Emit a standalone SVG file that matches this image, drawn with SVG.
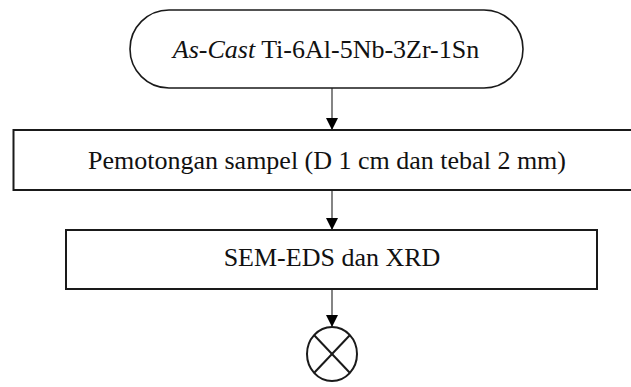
<svg xmlns="http://www.w3.org/2000/svg" width="631" height="387" viewBox="0 0 631 387">
<style>
.node{fill:#fff;stroke:#1a1a1a;stroke-width:2}
.lbl{font-family:"Liberation Serif","Times New Roman",serif;font-size:26px;fill:#111;text-anchor:middle}
.conn{stroke:#333;stroke-width:1.2;fill:none}
</style>
<defs>
<marker id="arr" viewBox="0 0 12 13" refX="12" refY="6" markerWidth="12" markerHeight="13" markerUnits="userSpaceOnUse" orient="auto">
<path d="M0,0 L12,6 L0,12 Z" fill="#000"/>
</marker>
</defs>
<rect width="631" height="387" fill="#fff"/>
<g id="connectors">
<line class="conn" x1="332" y1="88" x2="332" y2="130" marker-end="url(#arr)"/>
<line class="conn" x1="332" y1="190" x2="332" y2="230" marker-end="url(#arr)"/>
<line class="conn" x1="332" y1="289" x2="332" y2="327" marker-end="url(#arr)"/>
</g>
<g id="start">
<rect class="node" x="130" y="10" width="393" height="78" rx="39" ry="39" style="stroke-width:1.6"/>
<text class="lbl" x="326" y="58"><tspan font-style="italic">As-Cast</tspan> Ti-6Al-5Nb-3Zr-1Sn</text>
</g>
<g id="cutting">
<rect class="node" x="13.5" y="130" width="630" height="60"/>
<text class="lbl" x="327" y="169">Pemotongan sampel (D 1 cm dan tebal 2 mm)</text>
</g>
<g id="analysis">
<rect class="node" x="66" y="230" width="531" height="59"/>
<text class="lbl" x="332" y="266">SEM-EDS dan XRD</text>
</g>
<g id="end">
<ellipse class="node" cx="332" cy="354" rx="25" ry="27"/>
<line x1="314" y1="335" x2="350" y2="373" stroke="#1a1a1a" stroke-width="2"/>
<line x1="350" y1="335" x2="314" y2="373" stroke="#1a1a1a" stroke-width="2"/>
</g>
</svg>
